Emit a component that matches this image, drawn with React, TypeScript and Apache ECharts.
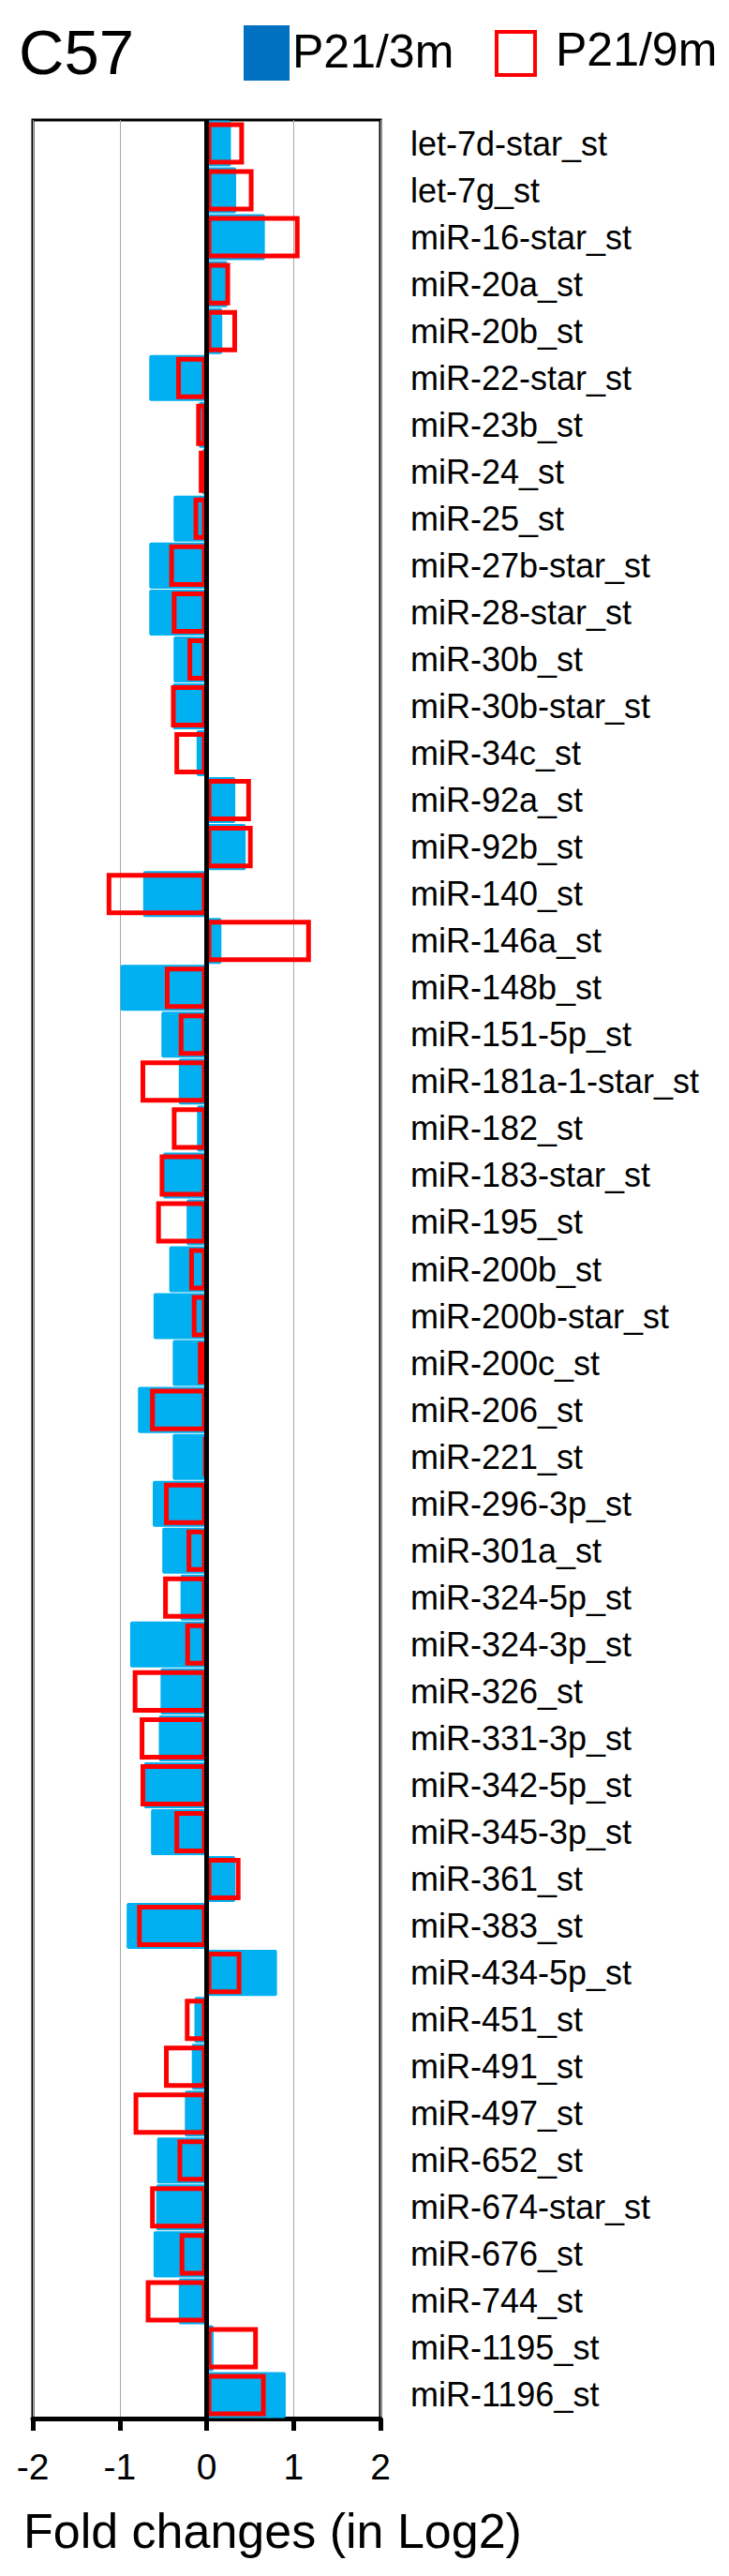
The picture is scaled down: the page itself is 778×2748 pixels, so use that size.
import React, { useEffect, useRef } from "react";
import * as echarts from "echarts";

const categories = [
  "let-7d-star_st", "let-7g_st", "miR-16-star_st", "miR-20a_st", "miR-20b_st",
  "miR-22-star_st", "miR-23b_st", "miR-24_st", "miR-25_st", "miR-27b-star_st",
  "miR-28-star_st", "miR-30b_st", "miR-30b-star_st", "miR-34c_st", "miR-92a_st",
  "miR-92b_st", "miR-140_st", "miR-146a_st", "miR-148b_st", "miR-151-5p_st",
  "miR-181a-1-star_st", "miR-182_st", "miR-183-star_st", "miR-195_st", "miR-200b_st",
  "miR-200b-star_st", "miR-200c_st", "miR-206_st", "miR-221_st", "miR-296-3p_st",
  "miR-301a_st", "miR-324-5p_st", "miR-324-3p_st", "miR-326_st", "miR-331-3p_st",
  "miR-342-5p_st", "miR-345-3p_st", "miR-361_st", "miR-383_st", "miR-434-5p_st",
  "miR-451_st", "miR-491_st", "miR-497_st", "miR-652_st", "miR-674-star_st",
  "miR-676_st", "miR-744_st", "miR-1195_st", "miR-1196_st",
];

const p21_3m = [
  0.28, 0.34, 0.67, 0.24, 0.18,
  -0.66, -0.09, -0.05, -0.38, -0.66,
  -0.66, -0.38, -0.39, -0.115, 0.33,
  0.45, -0.73, 0.17, -0.99, -0.52,
  -0.32, -0.11, -0.5, -0.23, -0.43,
  -0.61, -0.39, -0.79, -0.39, -0.62,
  -0.51, -0.3, -0.88, -0.53, -0.55,
  -0.72, -0.64, 0.33, -0.92, 0.81,
  -0.14, -0.17, -0.25, -0.57, -0.58,
  -0.61, -0.32, 0.08, 0.91,
];

const p21_9m = [
  0.43, 0.54, 1.07, 0.27, 0.35,
  -0.35, -0.12, -0.09, -0.15, -0.43,
  -0.4, -0.22, -0.41, -0.37, 0.51,
  0.53, -1.15, 1.2, -0.48, -0.32,
  -0.76, -0.4, -0.54, -0.58, -0.2,
  -0.17, -0.1, -0.65, -0.03, -0.49,
  -0.23, -0.5, -0.245, -0.85, -0.77,
  -0.76, -0.37, 0.39, -0.8, 0.4,
  -0.25, -0.49, -0.84, -0.335, -0.65,
  -0.31, -0.7, 0.59, 0.68,
];

const seriesNames = ["P21/3m", "P21/9m"];
const chartTitle = "C57";
const xAxisTitle = "Fold changes (in Log2)";
const xMin = -2;
const xMax = 2;
const xStep = 1;

const FONT = "'Liberation Sans', Arial, Helvetica, sans-serif";

export default function App() {
  const ref = useRef<HTMLDivElement>(null);

  useEffect(() => {
    if (!ref.current) return;
    const chart = echarts.init(ref.current, undefined, { renderer: "svg" });
    chart.setOption({
      animation: false,
      backgroundColor: "#ffffff",
      textStyle: { fontFamily: FONT },
      grid: {
        left: 35,
        top: 128,
        width: 371,
        height: 2452,
        show: true,
        borderColor: "#000000",
        borderWidth: 3,
        backgroundColor: "transparent",
      },
      xAxis: {
        type: "value",
        min: xMin,
        max: xMax,
        interval: xStep,
        axisLine: { show: true, onZero: false, lineStyle: { color: "#000", width: 5 } },
        axisTick: { show: true, length: 13, lineStyle: { color: "#000", width: 5 } },
        splitLine: { show: true, lineStyle: { color: "#a6a6a6", width: 1 } },
        axisLabel: {
          margin: 32,
          fontSize: 39,
          color: "#000",
          fontFamily: FONT,
        },
      },
      yAxis: [
        {
          type: "category",
          data: categories,
          inverse: true,
          position: "right",
          axisLine: { show: false },
          axisTick: { show: false },
          splitLine: { show: false },
          axisLabel: {
            interval: 0,
            margin: 32,
            fontSize: 36,
            color: "#000",
            fontFamily: FONT,
          },
        },
        {
          type: "category",
          data: categories,
          inverse: true,
          position: "right",
          show: false,
        },
      ],
      series: [
        {
          name: seriesNames[0],
          type: "bar",
          yAxisIndex: 0,
          data: p21_3m,
          barCategoryGap: "2%",
          itemStyle: { color: "#00b0f0", borderRadius: 2 },
          z: 2,
        },
        {
          name: seriesNames[1],
          type: "bar",
          yAxisIndex: 1,
          data: p21_9m,
          barCategoryGap: "10%",
          itemStyle: { color: "rgba(255,255,255,0)", borderColor: "#ff0000", borderWidth: 5 },
          z: 3,
          markLine: {
            silent: true,
            symbol: "none",
            label: { show: false },
            lineStyle: { color: "#000", width: 5, type: "solid" },
            data: [{ xAxis: 0 }],
            z: 10,
          },
        },
      ],
      graphic: [
        {
          type: "text",
          style: {
            text: chartTitle,
            x: 20,
            y: 55,
            fontSize: 67,
            fontFamily: FONT,
            fill: "#000",
            textVerticalAlign: "middle",
          },
        },
        {
          type: "rect",
          shape: { x: 260, y: 27, width: 49, height: 59 },
          style: { fill: "#0070c0" },
        },
        {
          type: "text",
          style: {
            text: seriesNames[0],
            x: 312,
            y: 55,
            fontSize: 50,
            fontFamily: FONT,
            fill: "#000",
            textVerticalAlign: "middle",
          },
        },
        {
          type: "rect",
          shape: { x: 530, y: 34, width: 41, height: 46 },
          style: { fill: "#fff", stroke: "#ff0000", lineWidth: 4 },
        },
        {
          type: "text",
          style: {
            text: seriesNames[1],
            x: 593,
            y: 53,
            fontSize: 50,
            fontFamily: FONT,
            fill: "#000",
            textVerticalAlign: "middle",
          },
        },
        {
          type: "text",
          style: {
            text: xAxisTitle,
            x: 25,
            y: 2700,
            fontSize: 52,
            fontFamily: FONT,
            fill: "#000",
            textVerticalAlign: "middle",
          },
        },
      ],
    });
    return () => chart.dispose();
  }, []);

  return (
    <div
      ref={ref}
      style={{ position: "absolute", left: 0, top: 0, width: 778, height: 2748 }}
    />
  );
}
